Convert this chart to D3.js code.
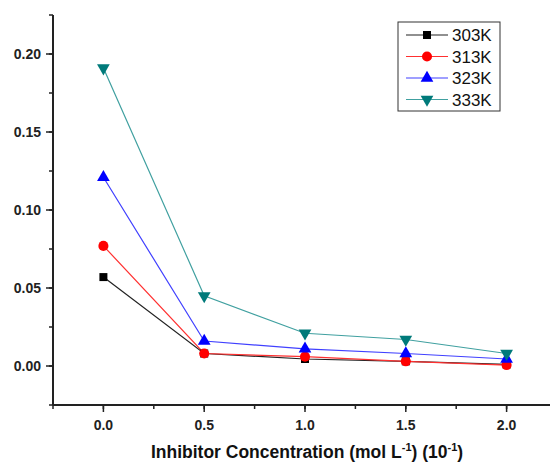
<!DOCTYPE html>
<html>
<head>
<meta charset="utf-8">
<script src="https://d3js.org/d3.v7.min.js"></script>
<style>
  body { margin: 0; background: #fff; }
  text { font-family: Arial, 'Liberation Sans', sans-serif; }
</style>
</head>
<body>
<div id="chart"></div>
<script>
// concentrations (10^-1 mol/L)
var conc = [0.0, 0.5, 1.0, 1.5, 2.0];
var temps = ["303K", "313K", "323K", "333K"];
var v303 = [0.057, 0.008, 0.0045, 0.003, 0.001];
var v313 = [0.077, 0.008, 0.006, 0.003, 0.0006];
var v323 = [0.121, 0.016, 0.011, 0.008, 0.0045];
var v333 = [0.191, 0.045, 0.021, 0.017, 0.008];
var xTicks = [0.0, 0.5, 1.0, 1.5, 2.0];
var yTicks = [0.00, 0.05, 0.10, 0.15, 0.20];

var series = [
  { name: temps[0], values: v303, color: "#000000", line: "#222", symbol: d3.symbolSquare, size: 64, rot: 0 },
  { name: temps[1], values: v313, color: "#ff0000", line: "#ff3030", symbol: d3.symbolCircle, size: 80, rot: 0 },
  { name: temps[2], values: v323, color: "#0000ff", line: "#4040ff", symbol: d3.symbolTriangle, size: 70, rot: 0 },
  { name: temps[3], values: v333, color: "#007a7a", line: "#40a0a0", symbol: d3.symbolTriangle, size: 70, rot: 180 }
];

var W = 550, H = 468;
var svg = d3.select("#chart").append("svg").attr("width", W).attr("height", H);

var x = d3.scaleLinear().domain([-0.25, 2.25]).range([53, 557]);
var y = d3.scaleLinear().domain([-0.025, 0.225]).range([405, 15]);

// minor ticks
var gx = svg.append("g").attr("transform", "translate(0,405)");
gx.append("line").attr("x1", 53).attr("x2", 557).attr("stroke", "#222").attr("stroke-width", 2);
gx.selectAll(".mn").data(d3.range(-0.25, 2.26, 0.25)).enter().append("line")
  .attr("x1", d => x(d)).attr("x2", d => x(d)).attr("y1", 0).attr("y2", 4)
  .attr("stroke", "#222").attr("stroke-width", 1.5);
gx.selectAll(".mj").data(xTicks).enter().append("line")
  .attr("x1", d => x(d)).attr("x2", d => x(d)).attr("y1", 0).attr("y2", 7)
  .attr("stroke", "#222").attr("stroke-width", 1.5);
gx.selectAll(".lb").data(xTicks).enter().append("text")
  .attr("x", d => x(d)).attr("y", 25).attr("text-anchor", "middle")
  .attr("font-size", 14).attr("font-weight", "bold").attr("fill", "#222")
  .text(d => d3.format(".1f")(d));

var gy = svg.append("g").attr("transform", "translate(53,0)");
gy.append("line").attr("y1", 15).attr("y2", 405).attr("stroke", "#222").attr("stroke-width", 2);
gy.selectAll(".mn").data(d3.range(-0.025, 0.2251, 0.025)).enter().append("line")
  .attr("y1", d => y(d)).attr("y2", d => y(d)).attr("x1", 0).attr("x2", -4)
  .attr("stroke", "#222").attr("stroke-width", 1.5);
gy.selectAll(".mj").data(yTicks).enter().append("line")
  .attr("y1", d => y(d)).attr("y2", d => y(d)).attr("x1", 0).attr("x2", -7)
  .attr("stroke", "#222").attr("stroke-width", 1.5);
gy.selectAll(".lb").data(yTicks).enter().append("text")
  .attr("x", -12).attr("y", d => y(d) + 5).attr("text-anchor", "end")
  .attr("font-size", 14).attr("font-weight", "bold").attr("fill", "#222")
  .text(d => d3.format(".2f")(d));

// x-axis title
var title = svg.append("text").attr("x", 307).attr("y", 458).attr("text-anchor", "middle")
  .attr("font-size", 17.5).attr("font-weight", "bold").attr("fill", "#111");
title.append("tspan").text("Inhibitor Concentration (mol L");
title.append("tspan").attr("dy", -7).attr("font-size", 11).text("-1");
title.append("tspan").attr("dy", 7).text(") (10");
title.append("tspan").attr("dy", -7).attr("font-size", 11).text("-1");
title.append("tspan").attr("dy", 7).text(")");

var line = d3.line().x((d, i) => x(conc[i])).y(d => y(d));

series.forEach(function (s) {
  svg.append("path").attr("d", line(s.values)).attr("fill", "none")
    .attr("stroke", s.line).attr("stroke-width", 1.2);
});
series.forEach(function (s) {
  svg.selectAll(null).data(s.values).enter().append("path")
    .attr("d", d3.symbol().type(s.symbol).size(s.size))
    .attr("transform", (d, i) => "translate(" + x(conc[i]) + "," + y(d) + ") rotate(" + s.rot + ")")
    .attr("fill", s.color);
});

// legend
var lg = svg.append("g");
lg.append("rect").attr("x", 398).attr("y", 22).attr("width", 102).attr("height", 89)
  .attr("fill", "#fff").attr("stroke", "#333").attr("stroke-width", 1);
series.forEach(function (s, i) {
  var ly = 35 + i * 21.5;
  lg.append("line").attr("x1", 406).attr("x2", 448).attr("y1", ly).attr("y2", ly)
    .attr("stroke", s.line).attr("stroke-width", 1.2);
  lg.append("path").attr("d", d3.symbol().type(s.symbol).size(s.size))
    .attr("transform", "translate(427," + ly + ") rotate(" + s.rot + ")").attr("fill", s.color);
  lg.append("text").attr("x", 452).attr("y", ly + 6).attr("font-size", 17).attr("fill", "#111").text(s.name);
});
</script>
</body>
</html>
